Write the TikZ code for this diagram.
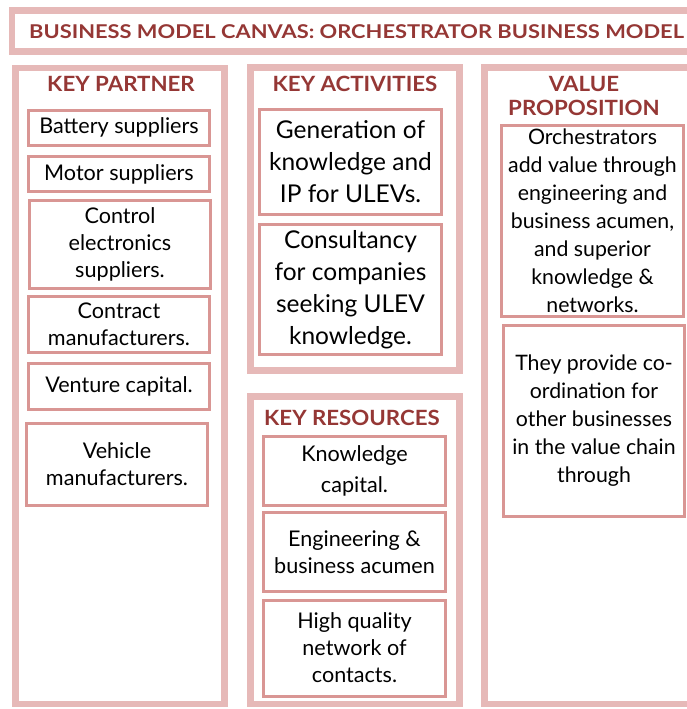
\documentclass[tikz,border=0pt]{standalone}
\usepackage{fontspec}
\setmainfont{Lato}
\definecolor{outerpink}{HTML}{E6B9B8}
\definecolor{innerpink}{HTML}{D99694}
\definecolor{headred}{HTML}{953735}
\tikzset{
  outerbox/.style={draw=outerpink, line width=6.5pt},
  inbox/.style={draw=innerpink, line width=3pt, fill=white, inner sep=0pt, outer sep=0pt, align=center, text=black},
  head/.style={text=headred, font=\bfseries\fontsize{21}{24}\selectfont, align=center, inner sep=0pt},
  fa/.style={font=\fontsize{21.6}{27}\selectfont},
  fb/.style={font=\fontsize{24.5}{32}\selectfont},
  fc/.style={font=\fontsize{21.3}{28}\selectfont},
}
\newcommand\hx[1]{\scalebox{1.06}[1]{#1}}
\begin{document}
\begin{tikzpicture}[x=1pt,y=-1pt]
\useasboundingbox (0,0) rectangle (686,709);
\fill[white] (0,0) rectangle (686,709);
% outer frames
\draw[outerbox] (12,10.5) rectangle (700,51.5);
\draw[outerbox] (15.5,68) rectangle (224.5,704);
\draw[outerbox] (250.5,67.5) rectangle (459.5,370.5);
\draw[outerbox] (250.5,396.5) rectangle (459.5,704);
\draw[outerbox] (484.5,67.5) rectangle (705,704);
% title and headers
\node[text=headred, font=\bfseries\fontsize{19}{20}\selectfont, inner sep=0pt] (title) at (356.5,32) {\scalebox{1.15}[1]{BUSINESS MODEL CANVAS:\ ORCHESTRATOR BUSINESS MODEL}};
\node[head] (hpartner) at (121,84) {\hx{KEY PARTNER}};
\node[head] (hact) at (355,84) {\hx{KEY ACTIVITIES}};
\node[head] (hvalue) at (584,96) {\hx{VALUE}\\\hx{PROPOSITION}};
\node[head] (hres) at (352,418) {\hx{KEY RESOURCES}};
% key partner
\node[inbox, fa, minimum width=181pt, minimum height=35.5pt] (battery) at (119,127.75) {Battery suppliers};
\node[inbox, fa, minimum width=181pt, minimum height=35pt] (motor) at (119,174) {Motor suppliers};
\node[inbox, fa, minimum width=181pt, minimum height=87.5pt] (control) at (120,244.25) {Control\\electronics\\suppliers.};
\node[inbox, fa, minimum width=181pt, minimum height=55.5pt] (contract) at (119,324.25) {Contract\\manufacturers.};
\node[inbox, fa, minimum width=181pt, minimum height=45.5pt] (venture) at (119,386.25) {Venture capital.};
\node[inbox, fa, minimum width=181pt, minimum height=82pt] (vehicle) at (117,464.5) {Vehicle\\manufacturers.};
% key activities
\node[inbox, fb, minimum width=182pt, minimum height=105pt] (generation) at (350.5,162) {Generation of\\knowledge and\\IP for ULEVs.};
\node[inbox, fb, minimum width=182pt, minimum height=130pt] (consult) at (350.5,289.5) {Consultancy\\for companies\\seeking ULEV\\knowledge.};
% key resources
\node[inbox, fa, font=\fontsize{21.6}{31}\selectfont, minimum width=182pt, minimum height=69pt] (knowledge) at (354.5,471) {Knowledge\\capital.};
\node[inbox, fa, minimum width=182pt, minimum height=79pt] (engineering) at (354.5,552) {Engineering \&\\business acumen};
\node[inbox, fa, minimum width=182pt, minimum height=96pt] (network) at (354.5,648) {High quality\\network of\\contacts.};
% value proposition
\node[inbox, fc, minimum width=182pt, minimum height=191pt] (orch) at (592.5,221) {Orchestrators\\add value through\\engineering and\\business acumen,\\and superior\\knowledge \&\\networks.};
\node[inbox, fc, minimum width=181pt, minimum height=191pt] (coord) at (594,421) {They provide co-\\ordination for\\other businesses\\in the value chain\\through};
\end{tikzpicture}
\end{document}
